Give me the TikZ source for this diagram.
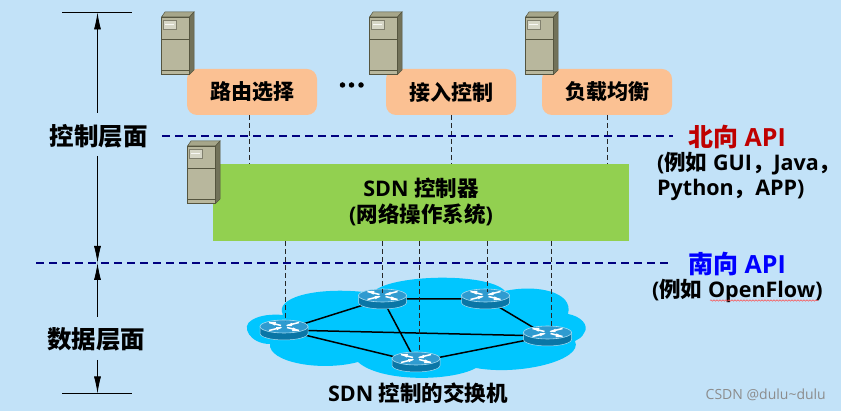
\documentclass[tikz,border=0pt]{standalone}
\usepackage{fontspec}
\usetikzlibrary{arrows.meta,decorations.pathmorphing}
\setmainfont{Open Sans}
\newfontfamily\cjkbase{Noto Sans CJK SC}
\newcommand{\cjk}{\cjkbase\bfseries}
\newcommand{\zh}[1]{{\cjk #1}}
\definecolor{bgblue}{HTML}{C2E2F8}
\definecolor{peach}{HTML}{FBC193}
\definecolor{ctrlgreen}{HTML}{92D050}
\definecolor{cloudblue}{HTML}{00C6FF}
\definecolor{navyline}{HTML}{000080}
\definecolor{srvfront}{HTML}{B8B79D}
\definecolor{srvside}{HTML}{72725A}
\definecolor{srvtop}{HTML}{A6A68A}
\definecolor{srvline}{HTML}{55553F}
\definecolor{srvlabel}{HTML}{D6D6C6}
\definecolor{rttop}{HTML}{2F9BD0}
\definecolor{rtside}{HTML}{0A76A6}
\definecolor{rtrim}{HTML}{A8DDF2}
\tikzset{
  x=1pt,y=-1pt,
  appbox/.style={fill=peach,rounded corners=10pt,minimum width=130pt,minimum height=46pt,inner sep=0pt,font=\fontsize{21}{22}\selectfont\cjk},
  planelabel/.style={font=\fontsize{24.5}{26}\selectfont\cjk,inner sep=0pt},
  apibig/.style={font=\fontsize{25}{27}\selectfont\bfseries,inner sep=0pt},
  apismall/.style={font=\fontsize{21.5}{25}\selectfont\bfseries,inner sep=0pt,align=left},
  ctrltext/.style={font=\fontsize{21.5}{26}\selectfont\bfseries,inner sep=0pt,align=center},
  planeline/.style={navyline,line width=1.5pt,dash pattern=on 7.5pt off 5.5pt},
  apiline/.style={black!85,line width=0.9pt,dash pattern=on 5pt off 3pt},
  dimline/.style={black,line width=0.8pt},
  dimarrow/.style={dimline,-{Latex[length=17pt,width=7pt]}},
  link/.style={black,line width=1.5pt},
  dotmark/.style={circle,fill=black,inner sep=0pt,minimum size=5.5pt},
  server/.pic={
    \fill[srvtop,draw=srvline,line width=.5pt] (0.5,5)--(4,0)--(33,0)--(28.5,5)--cycle;
    \fill[srvside,draw=srvline,line width=.5pt] (28.5,5)--(33,0)--(33,58)--(28.5,62.5)--cycle;
    \fill[srvfront,draw=srvline,line width=.7pt] (0.5,5) rectangle (28.5,62.5);
    \draw[srvline,line width=.8pt] (0.5,27)--(28.5,27);
    \draw[srvline,line width=.8pt] (0.5,58)--(28.5,58);
    \fill[srvlabel,draw=srvfront!70!black,line width=.5pt] (2,8) rectangle (15.5,17);
    \draw[white!90!srvfront,line width=.6pt] (4,12.5)--(13,12.5);
  },
  router/.pic={
    \fill[rtside,draw=rtrim,line width=.5pt] (-24,-3.5)--(-24,3.5) arc[x radius=24,y radius=6.5,start angle=180,end angle=0]--(24,-3.5)--cycle;
    \fill[rttop,draw=rtrim,line width=.6pt] (0,-3.5) ellipse[x radius=24,y radius=6.5];
    \begin{scope}[white,line width=1.5pt]
      \draw (-15,-7.5)--(-3,-4.5) (15,0.5)--(3,-2.5);
      \draw (-15,0.5)--(-3,-2.5) (15,-7.5)--(3,-4.5);
    \end{scope}
    \fill[white] (-2,-2.8)--(-8,-2.8)--(-7,.2)--cycle (2,-4.2)--(8,-7.2)--(8,-3.8)--cycle;
    \fill[white] (15,.8)--(8,1.2)--(9,-2.6)--cycle (-15,-7.8)--(-8,-8.2)--(-9,-4.4)--cycle;
  },
}
\begin{document}
\begin{tikzpicture}
\useasboundingbox (0,0) rectangle (841,411);
\fill[bgblue] (0,0) rectangle (841,411);

% cloud
\fill[cloudblue]
  (282,312) .. controls (278,296) and (322,286) .. (372,293)
  .. controls (388,274) and (488,272) .. (505,291)
  .. controls (537,284) and (574,292) .. (568,314)
  .. controls (580,316) and (590,325) .. (584,333)
  .. controls (582,338) and (578,339) .. (575,341)
  .. controls (584,360) and (520,376) .. (476,368)
  .. controls (450,382) and (380,382) .. (358,362)
  .. controls (320,372) and (268,362) .. (270,344)
  .. controls (250,344) and (240,326) .. (252,320)
  .. controls (260,315) and (272,314) .. (283,315)
  -- cycle;

% plane separators
\coordinate (northL) at (162,136);
\coordinate (northR) at (673,136);
\coordinate (southL) at (36,263);
\coordinate (southR) at (673,263);

% application boxes and controller
\node[appbox] (route) at (252,92) {路由选择};
\node[appbox] (access) at (451,92) {接入控制};
\node[appbox] (balance) at (607,92) {负载均衡};
\path[fill=ctrlgreen] (213,164) rectangle (629,241);
\node[minimum width=416pt,minimum height=77pt,inner sep=0pt] (ctrl) at (421,202.5) {};
\node[ctrltext] (ctrltxt) at (421,202) {SDN \zh{控制器}\\(\zh{网络操作系统})};

\pic at (161,12) {server};
\pic at (369,12) {server};
\pic at (525,12) {server};
\pic at (187,141) {server};

\node[dotmark] (dot1) at (342.5,85) {};
\node[dotmark] (dot2) at (351.5,85) {};
\node[dotmark] (dot3) at (361,85) {};

% routers
\coordinate (r1) at (284,330);
\coordinate (r2) at (382.5,299);
\coordinate (r3) at (485.5,299);
\coordinate (r4) at (547.5,336);
\coordinate (r5) at (416,362);

\draw[link] (r1)--(r2) (r2)--(r3) (r3)--(r4) (r1)--(r4) (r1)--(r5) (r2)--(r5) (r5)--(r4);
\pic at (r1) {router};
\pic at (r2) {router};
\pic at (r3) {router};
\pic at (r4) {router};
\pic at (r5) {router};

% API dashed connectors
\coordinate (na) at (249,115); \coordinate (nb) at (249,164);
\coordinate (nc) at (451.5,115); \coordinate (nd) at (451.5,164);
\coordinate (ne) at (607,115); \coordinate (nf) at (607,164);
\draw[apiline] (na)--(nb);
\draw[apiline] (nc)--(nd);
\draw[apiline] (ne)--(nf);
\coordinate (sa) at (285.5,241); \coordinate (sb) at (285.5,321);
\coordinate (sc) at (382.5,241); \coordinate (sd) at (382.5,293);
\coordinate (se) at (419.5,241); \coordinate (sf) at (419.5,351);
\coordinate (sg) at (487,241); \coordinate (sh) at (487,292);
\coordinate (si) at (551,241); \coordinate (sj) at (551,327);
\draw[apiline] (sa)--(sb);
\draw[apiline] (sc)--(sd);
\draw[apiline] (se)--(sf);
\draw[apiline] (sg)--(sh);
\draw[apiline] (si)--(sj);

\draw[planeline] (northL)--(northR);
\draw[planeline] (southL)--(southR);

% dimension lines
\node[planelabel] (ctl) at (98.5,136) {控制层面};
\node[planelabel] (dat) at (96,339.5) {数据层面};
\coordinate (t1) at (62,12.5); \coordinate (t2) at (132,12.5);
\coordinate (b1) at (62,393.5); \coordinate (b2) at (132,393.5);
\coordinate (tm) at (97.5,12.5); \coordinate (bm) at (97.5,393.5);
\coordinate (mm) at (97.5,263);
\coordinate (ca) at (97.5,113); \coordinate (cb) at (97.5,156);
\coordinate (da) at (97.5,317); \coordinate (db) at (97.5,360);
\draw[dimline] (t1)--(t2);
\draw[dimline] (b1)--(b2);
\draw[dimarrow] (ca)--(tm);
\draw[dimarrow] (cb)--(mm);
\draw[dimarrow] (da)--(mm);
\draw[dimarrow] (db)--(bm);

% API labels
\node[apibig,text=red!75!black,anchor=west] (north) at (688,137.5) {\zh{北向} API};
\node[apismall,anchor=north west] (northsub) at (657,151.5) {(\zh{例如} GUI\zh{，}Java\zh{，}\\Python\zh{，}APP)};
\node[apibig,text=blue,anchor=west] (south) at (688,264) {\zh{南向} API};
\node[apismall,anchor=west] (southsub) at (652,291) {(\zh{例如} OpenFlow)};
\coordinate (wa) at (710,300.5); \coordinate (wb) at (818,300.5);
\draw[red!70!white,line width=.5pt,decorate,decoration={snake,amplitude=.7pt,segment length=3pt}] (wa)--(wb);

\node[ctrltext] (swlabel) at (418,393.5) {SDN \zh{控制的交换机}};
\node[font=\fontsize{14}{15}\selectfont,text=black!45,inner sep=0pt,anchor=east] (mark) at (826,395) {CSDN @dulu\textasciitilde dulu};
\end{tikzpicture}
\end{document}
